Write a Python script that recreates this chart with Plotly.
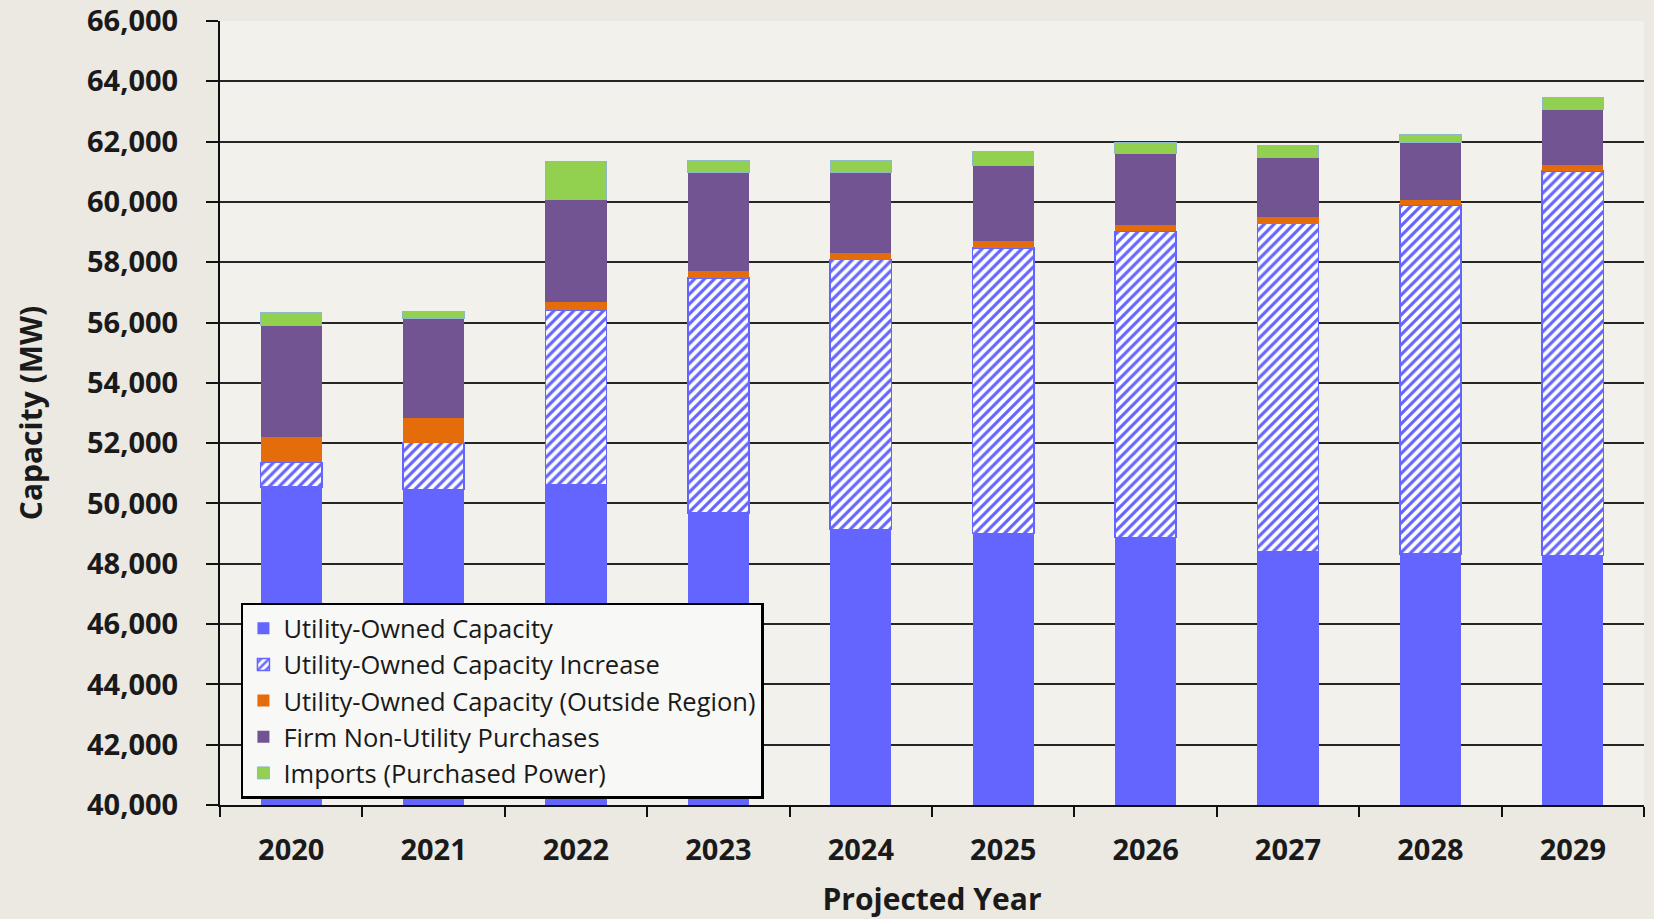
import plotly.graph_objects as go

years = ["2020", "2021", "2022", "2023", "2024", "2025", "2026", "2027", "2028", "2029"]
utility_owned = [50550, 50460, 50610, 49690, 49140, 49000, 48870, 48390, 48330, 48280]
utility_increase = [810, 1560, 5810, 7790, 8950, 9470, 10150, 10890, 11560, 12740]
utility_outside = [860, 820, 250, 220, 210, 230, 200, 220, 190, 200]
firm_non_utility = [3670, 3300, 3410, 3270, 2670, 2520, 2370, 1970, 1890, 1860]
imports = [440, 210, 1250, 420, 420, 450, 390, 400, 280, 390]
y_ticks = [40000, 42000, 44000, 46000, 48000, 50000, 52000, 54000, 56000, 58000,
           60000, 62000, 64000, 66000]

FONT = "Open Sans"
BLUE = "#6464ff"
ORANGE = "#e46c0a"
PURPLE = "#725492"
GREEN = "#92d050"

fig = go.Figure()
fig.add_trace(go.Bar(x=years, y=utility_owned, name="Utility-Owned Capacity",
                     marker=dict(color=BLUE, line=dict(width=0))))
fig.add_trace(go.Bar(x=years, y=utility_increase, name="Utility-Owned Capacity Increase",
                     marker=dict(color="white",
                                 line=dict(color=BLUE, width=1.5),
                                 pattern=dict(shape="/", fgcolor=BLUE, bgcolor="white",
                                              size=7, solidity=0.45, fillmode="replace"))))
fig.add_trace(go.Bar(x=years, y=utility_outside, name="Utility-Owned Capacity (Outside Region)",
                     marker=dict(color=ORANGE, line=dict(width=0))))
fig.add_trace(go.Bar(x=years, y=firm_non_utility, name="Firm Non-Utility Purchases",
                     marker=dict(color=PURPLE, line=dict(width=0))))
fig.add_trace(go.Bar(x=years, y=imports, name="Imports (Purchased Power)",
                     marker=dict(color=GREEN, line=dict(color="#8fb8c8", width=1))))

fig.update_layout(
    width=1654, height=919,
    barmode="stack",
    bargap=0.57,
    paper_bgcolor="#ebe9e2",
    plot_bgcolor="#f2f1ec",
    margin=dict(l=220, r=10, t=21, b=114, autoexpand=False),
    font=dict(family=FONT, color="#1a1a1a"),
    legend=dict(
        x=0.0147, y=0.008, xanchor="left", yanchor="bottom",
        bgcolor="#f8f8f6", bordercolor="#000000", borderwidth=2.5,
        font=dict(family=FONT, size=25.5, color="#1a1a1a"),
        tracegroupgap=0, itemwidth=30,
        traceorder="normal",
    ),
    showlegend=True,
)

fig.update_yaxes(
    range=[40000, 66000],
    tickvals=y_ticks,
    tickformat=",d",
    automargin=False,
    showgrid=True, gridcolor="#262626", gridwidth=2,
    showline=True, linecolor="#111111", linewidth=2,
    ticks="outside", ticklen=12, tickwidth=2, tickcolor="#111111",
    ticklabelstandoff=22,
    tickfont=dict(family=FONT, size=29, color="#1a1a1a", weight="bold"),
    title=dict(text="Capacity (MW)", font=dict(family=FONT, size=30, color="#1a1a1a", weight="bold"),
               standoff=36),
    zeroline=False,
)
fig.update_xaxes(
    type="category",
    automargin=False,
    showgrid=False,
    showline=True, linecolor="#111111", linewidth=2,
    ticks="outside", tickson="boundaries", ticklen=10, tickwidth=2, tickcolor="#111111",
    ticklabelstandoff=18,
    tickfont=dict(family=FONT, size=29, color="#1a1a1a", weight="bold"),
    title=dict(text="Projected Year", font=dict(family=FONT, size=30, color="#1a1a1a", weight="bold"),
               standoff=22),
)

fig.write_html("out.html", config={"displayModeBar": False},
               post_script="document.body.style.margin='0';")
